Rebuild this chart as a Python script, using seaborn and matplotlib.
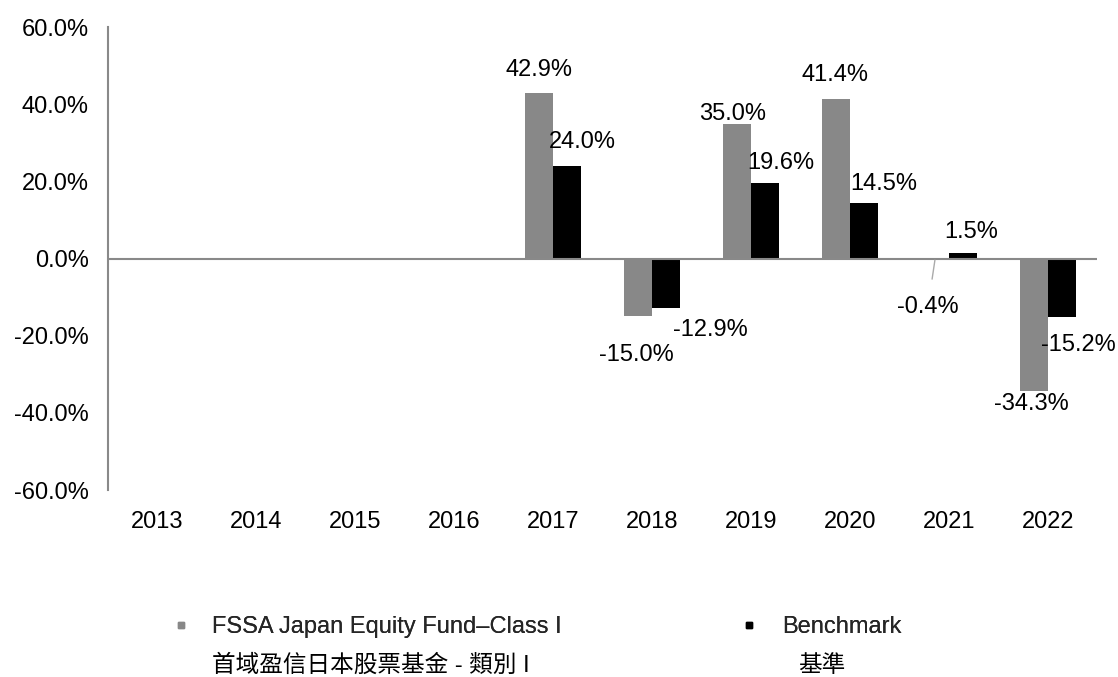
import numpy as np
import pandas as pd
import matplotlib
matplotlib.use("Agg")
import matplotlib.pyplot as plt
from matplotlib.lines import Line2D
import seaborn as sns

# data
years = ["2013", "2014", "2015", "2016", "2017", "2018", "2019", "2020", "2021", "2022"]
fund = [np.nan, np.nan, np.nan, np.nan, 42.9, -15.0, 35.0, 41.4, -0.4, -34.3]
bench = [np.nan, np.nan, np.nan, np.nan, 24.0, -12.9, 19.6, 14.5, 1.5, -15.2]
series = ["FSSA Japan Equity Fund–Class I", "Benchmark"]
series_zh = ["首域盈信日本股票基金 - 類別 I", "基準"]
colors = ["#888888", "#000000"]

# label offsets in pixels (dx, dy) for each bar that has a value
fund_offsets = [(0, 23), (-2, -39), (-4, 10), (-1, 24), (-7, -47), (-2, -13)]
bench_offsets = [(15, 24), (44, -22), (16, 20), (20, 19), (8, 21), (16, -28)]

df = pd.DataFrame({
    "year": years * 2,
    "value": fund + bench,
    "series": [series[0]] * len(years) + [series[1]] * len(years),
}).dropna()

sns.set_style("white")
plt.rcParams["font.family"] = ["Liberation Sans", "Noto Sans CJK TC", "DejaVu Sans"]
FS = 17

fig = plt.figure(figsize=(11.18, 6.77), dpi=100)
ax = fig.add_axes([0.0966, 0.276, 0.885, 0.684])

sns.barplot(data=df, x="year", y="value", hue="series", order=years,
            hue_order=series, palette=colors, width=0.57, gap=0,
            linewidth=0, edgecolor="none", legend=False, ax=ax)

ax.set_xlim(-0.5, 9.5)
ax.set_ylim(-60, 60)
ax.set_yticks(np.arange(-60, 61, 20))
ax.set_yticklabels([f"{v:.1f}%" for v in np.arange(-60, 61, 20)])
ax.set_xlabel("")
ax.set_ylabel("")
ax.tick_params(axis="y", length=0, pad=14, labelsize=FS, colors="#000000")
ax.tick_params(axis="x", length=0, pad=15, labelsize=FS, colors="#000000")

for s in ["top", "right", "bottom"]:
    ax.spines[s].set_visible(False)
ax.spines["left"].set_color("#898989")
ax.spines["left"].set_linewidth(1.5)
ax.axhline(0, color="#898989", lw=1.5, zorder=1)

# value labels
for cont, offs in zip(ax.containers, [fund_offsets, bench_offsets]):
    bars = [p for p in cont.patches if not np.isnan(p.get_height())]
    for p, (dx, dy) in zip(bars, offs):
        xc = p.get_x() + p.get_width() / 2
        yend = p.get_y() + p.get_height()
        val = p.get_height() if p.get_y() == 0 else yend
        kw = {}
        if abs(val) < 1 and val < 0:
            kw["arrowprops"] = dict(arrowstyle="-", color="#aaaaaa", lw=1,
                                    shrinkA=10, shrinkB=0)
        ax.annotate(f"{val:.1f}%", xy=(xc, yend), xytext=(dx, dy),
                    textcoords="offset pixels", ha="center", va="center",
                    fontsize=FS, color="#000000", **kw)

# legend
leg_x = [169 / 1118, 737 / 1118]
pads = [0.82, 0.9]
zh_x = [212 / 1118, 798 / 1118]
for i in range(2):
    h = Line2D([], [], marker="s", linestyle="none", color=colors[i], markersize=5)
    leg = fig.legend([h], [series[i]], loc="center left",
                     bbox_to_anchor=(leg_x[i], 1 - 627 / 677), frameon=False,
                     borderpad=0, borderaxespad=0, handlelength=1,
                     handletextpad=pads[i], fontsize=FS)
    fig.add_artist(leg)
    fig.text(zh_x[i], 1 - 666 / 677, series_zh[i], fontsize=FS,
             ha="left", va="center", color="#000000")

fig.savefig("out.png", dpi=100)
